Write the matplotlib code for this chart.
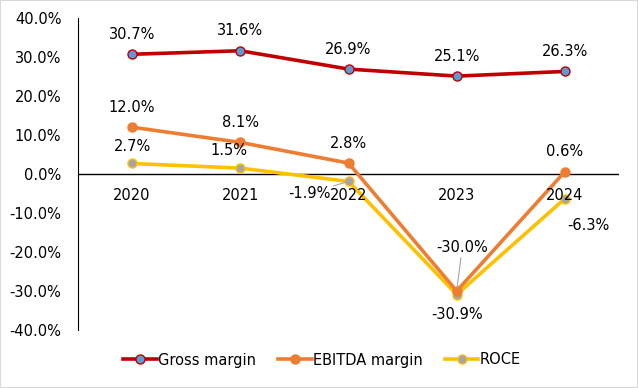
import matplotlib.pyplot as plt
from matplotlib.ticker import FuncFormatter

years = ["2020", "2021", "2022", "2023", "2024"]
gross = [30.7, 31.6, 26.9, 25.1, 26.3]
ebitda = [12.0, 8.1, 2.8, -30.0, 0.6]
roce = [2.7, 1.5, -1.9, -30.9, -6.3]

plt.rcParams['font.family'] = ['DejaVu Sans']
fig = plt.figure(figsize=(6.38, 3.88), dpi=100)
ax = fig.add_axes([78/638, 1 - 330/388, 541/638, 312/388])
x = list(range(len(years)))

ax.plot(x, gross, color='#c00000', lw=2.6, marker='o', ms=6.5,
        mfc='#5b9bd5', mec='#c00000', mew=1, label='Gross margin', zorder=3)
ax.plot(x, ebitda, color='#ed7d31', lw=2.6, marker='o', ms=6.5,
        mfc='#ed7d31', mec='#ed7d31', label='EBITDA margin', zorder=3)
ax.plot(x, roce, color='#ffc000', lw=2.6, marker='o', ms=6.5,
        mfc='#a5a5a5', mec='#ffc000', mew=1, label='ROCE', zorder=2)

ax.set_xlim(-0.5, 4.5)
ax.set_ylim(-40, 40)
ax.set_yticks(range(-40, 41, 10))
ax.yaxis.set_major_formatter(FuncFormatter(lambda v, p: f"{v:.1f}%"))
ax.tick_params(axis='y', length=0, labelsize=10.5, pad=12)
ax.set_xticks([])
for s in ['top', 'right', 'bottom']:
    ax.spines[s].set_visible(False)
ax.axhline(0, color='black', lw=1, zorder=1)
for i, yr in enumerate(years):
    ax.text(i, -3.6, yr, ha='center', va='top', fontsize=10.5)

fs = 10.5
for i, v in enumerate(gross):
    ax.annotate(f"{v:.1f}%", (i, v), xytext=(0, 9), textcoords='offset points',
                ha='center', va='bottom', fontsize=fs)
for i, v in enumerate(ebitda):
    if i == 3:
        ax.annotate(f"{v:.1f}%", (i, v), xytext=(4, 26), textcoords='offset points',
                    ha='center', va='bottom', fontsize=fs,
                    arrowprops=dict(arrowstyle='-', color='#a5a5a5', lw=0.8, shrinkA=0, shrinkB=2))
    else:
        ax.annotate(f"{v:.1f}%", (i, v), xytext=(0, 9), textcoords='offset points',
                    ha='center', va='bottom', fontsize=fs)
roce_off = [(0, 7), (-8, 7), (-28, -11), (0, -9), (17, -14)]
for i, v in enumerate(roce):
    dx, dy = roce_off[i]
    va = 'bottom' if dy > 0 else 'top'
    if i == 2:
        ax.annotate(f"{v:.1f}%", (i, v), xytext=(dx, dy + 8), textcoords='offset points',
                    ha='center', va='top', fontsize=fs,
                    arrowprops=dict(arrowstyle='-', color='#a5a5a5', lw=0.8, shrinkA=0, shrinkB=2))
    else:
        ax.annotate(f"{v:.1f}%", (i, v), xytext=(dx, dy), textcoords='offset points',
                    ha='center', va=va, fontsize=fs)

fig.legend(loc='center', bbox_to_anchor=(0.505, 1 - 360/388), ncol=3, frameon=False,
           fontsize=10.5, handlelength=2.3, handletextpad=0.1, columnspacing=1.5)

fig.patches.append(plt.Rectangle((0, 0), 1, 1, transform=fig.transFigure,
                                 fill=False, edgecolor='#d9d9d9', lw=1.5))
fig.savefig('out.png', dpi=100)
